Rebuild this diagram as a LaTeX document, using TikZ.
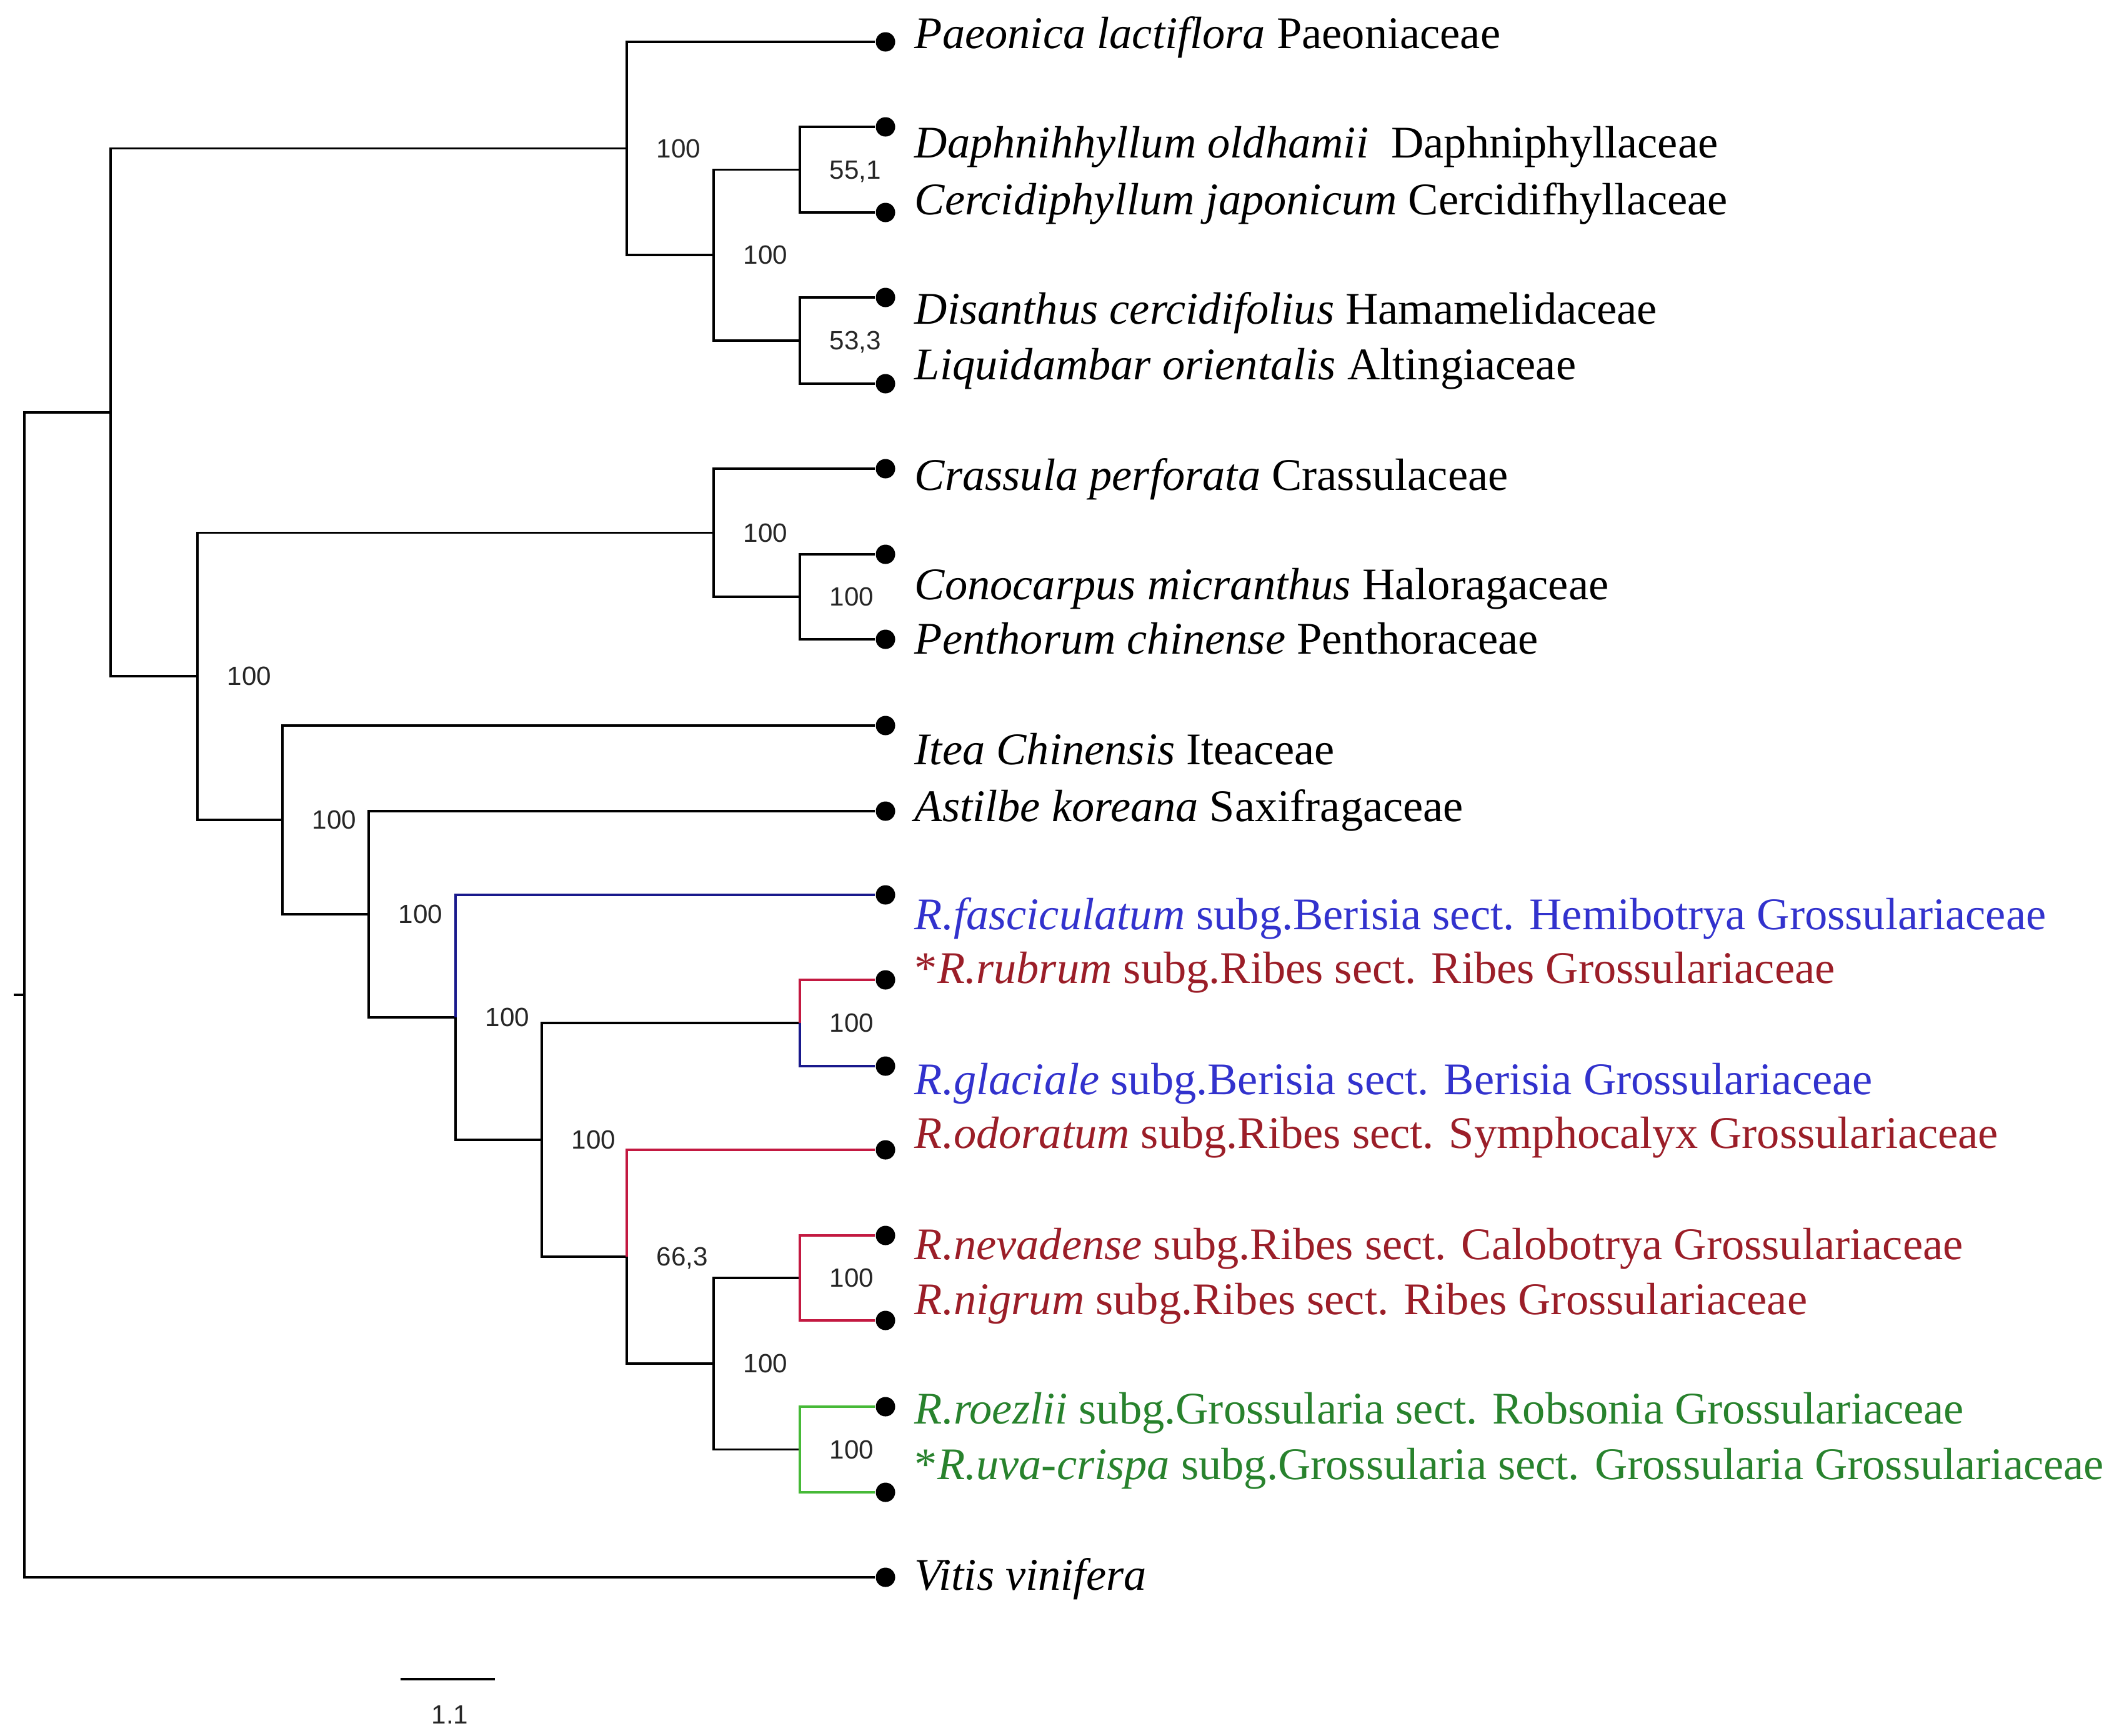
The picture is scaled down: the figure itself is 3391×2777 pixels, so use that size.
\documentclass[tikz,border=0pt]{standalone}
\usepackage{fontspec}
\setmainfont{Liberation Serif}
\newfontfamily\bsfont{Liberation Sans}
\usetikzlibrary{positioning}
\definecolor{berisiaLine}{RGB}{25,25,140}
\definecolor{berisiaText}{RGB}{50,50,205}
\definecolor{ribesLine}{RGB}{195,25,65}
\definecolor{ribesText}{RGB}{155,30,40}
\definecolor{grossLine}{RGB}{70,185,55}
\definecolor{grossText}{RGB}{40,130,45}

\begin{document}
\begin{tikzpicture}[x=0.01cm, y=-0.01cm, line width=1pt,
    tip/.style={circle, fill=black, inner sep=0pt, minimum size=0.31cm},
    taxon/.style={anchor=base west, inner sep=0pt, font=\fontsize{20.6}{24}\selectfont},
    bs/.style={inner sep=0pt, text depth=0pt, font=\bsfont\fontsize{12}{14}\selectfont, text=black!85}]

\useasboundingbox (0,0) rectangle (3391,2777);

% tips
\node[tip] (paeo) at (1417,67) {};
\node[tip] (daph) at (1417,203) {};
\node[tip] (cerc) at (1417,340) {};
\node[tip] (disa) at (1417,476) {};
\node[tip] (liqu) at (1417,614) {};
\node[tip] (cras) at (1417,750) {};
\node[tip] (cono) at (1417,887) {};
\node[tip] (pent) at (1417,1023) {};
\node[tip] (itea) at (1417,1161) {};
\node[tip] (asti) at (1417,1298) {};
\node[tip] (fasc) at (1417,1432) {};
\node[tip] (rubr) at (1417,1568) {};
\node[tip] (glac) at (1417,1706) {};
\node[tip] (odor) at (1417,1840) {};
\node[tip] (neva) at (1417,1977) {};
\node[tip] (nigr) at (1417,2113) {};
\node[tip] (roez) at (1417,2251) {};
\node[tip] (uvac) at (1417,2388) {};
\node[tip] (viti) at (1417,2524) {};

% taxon names
\node[taxon] (paeoName) at (1462,77) {\textit{Paeonica lactiflora} Paeoniaceae};
\node[taxon] (daphName) at (1462,252) {\textit{Daphnihhyllum oldhamii}\ \ Daphniphyllaceae};
\node[taxon] (cercName) at (1462,343) {\textit{Cercidiphyllum japonicum} Cercidifhyllaceae};
\node[taxon] (disaName) at (1462,518) {\textit{Disanthus cercidifolius} Hamamelidaceae};
\node[taxon] (liquName) at (1462,607) {\textit{Liquidambar orientalis} Altingiaceae};
\node[taxon] (crasName) at (1462,784) {\textit{Crassula perforata} Crassulaceae};
\node[taxon] (conoName) at (1462,959) {\textit{Conocarpus micranthus} Haloragaceae};
\node[taxon] (pentName) at (1462,1046) {\textit{Penthorum chinense} Penthoraceae};
\node[taxon] (iteaName) at (1462,1223) {\textit{Itea Chinensis} Iteaceae};
\node[taxon] (astiName) at (1462,1314) {\textit{Astilbe koreana} Saxifragaceae};
\node[taxon, text=berisiaText] (fascName) at (1462,1487) {\textit{R.fasciculatum} subg.Berisia sect. Hemibotrya Grossulariaceae};
\node[taxon, text=ribesText] (rubrName) at (1462,1573) {*\textit{R.rubrum} subg.Ribes sect. Ribes Grossulariaceae};
\node[taxon, text=berisiaText] (glacName) at (1462,1751) {\textit{R.glaciale} subg.Berisia sect. Berisia Grossulariaceae};
\node[taxon, text=ribesText] (odorName) at (1462,1837) {\textit{R.odoratum} subg.Ribes sect. Symphocalyx Grossulariaceae};
\node[taxon, text=ribesText] (nevaName) at (1462,2015) {\textit{R.nevadense} subg.Ribes sect. Calobotrya Grossulariaceae};
\node[taxon, text=ribesText] (nigrName) at (1462,2103) {\textit{R.nigrum} subg.Ribes sect. Ribes Grossulariaceae};
\node[taxon, text=grossText] (roezName) at (1462,2278) {\textit{R.roezlii} subg.Grossularia sect. Robsonia Grossulariaceae};
\node[taxon, text=grossText] (uvacName) at (1462,2367) {*\textit{R.uva-crispa} subg.Grossularia sect. Grossularia Grossulariaceae};
\node[taxon] (vitiName) at (1462,2544) {\textit{Vitis vinifera}};

% internal nodes
\coordinate (rootTick) at (22,1592);
\coordinate (root) at (39,1592);
\coordinate (cA) at (177,660);
\coordinate (cB) at (1003,237.5);
\coordinate (cC) at (1142,408);
\coordinate (cD) at (1280,271.5);
\coordinate (cE) at (1280,545);
\coordinate (cF) at (316,1082);
\coordinate (cG) at (1142,852.5);
\coordinate (cH) at (1280,955);
\coordinate (cI) at (452,1312);
\coordinate (cJ) at (590,1463);
\coordinate (cK) at (729,1628);
\coordinate (cL) at (867,1824);
\coordinate (cM) at (1280,1637);
\coordinate (cN) at (1003,2011);
\coordinate (cO) at (1142,2182);
\coordinate (cP) at (1280,2045);
\coordinate (cQ) at (1280,2319.5);

% branches
\draw (rootTick) -- (root);
\draw (root) |- (cA);
\draw (root) |- (viti);
\draw (cA) |- (cB);
\draw (cA) |- (cF);
\draw (cB) |- (paeo);
\draw (cB) |- (cC);
\draw (cC) |- (cD);
\draw (cC) |- (cE);
\draw (cD) |- (daph);
\draw (cD) |- (cerc);
\draw (cE) |- (disa);
\draw (cE) |- (liqu);
\draw (cF) |- (cG);
\draw (cF) |- (cI);
\draw (cG) |- (cras);
\draw (cG) |- (cH);
\draw (cH) |- (cono);
\draw (cH) |- (pent);
\draw (cI) |- (itea);
\draw (cI) |- (cJ);
\draw (cJ) |- (asti);
\draw (cJ) |- (cK);
\draw (cK) |- (cL);
\draw[berisiaLine] (cK) |- (fasc);
\draw (cL) |- (cM);
\draw (cL) |- (cN);
\draw[ribesLine] (cM) |- (rubr);
\draw[berisiaLine] (cM) |- (glac);
\draw (cN) |- (cO);
\draw[ribesLine] (cN) |- (odor);
\draw (cO) |- (cP);
\draw (cO) |- (cQ);
\draw[ribesLine] (cP) |- (neva);
\draw[ribesLine] (cP) |- (nigr);
\draw[grossLine] (cQ) |- (roez);
\draw[grossLine] (cQ) |- (uvac);

% support values
\node[bs, right=0.46cm of cB] (bsB) {100};
\node[bs, right=0.46cm of cC] (bsC) {100};
\node[bs, right=0.46cm of cD] (bsD) {55,1};
\node[bs, right=0.46cm of cE] (bsE) {53,3};
\node[bs, right=0.46cm of cF] (bsF) {100};
\node[bs, right=0.46cm of cG] (bsG) {100};
\node[bs, right=0.46cm of cH] (bsH) {100};
\node[bs, right=0.46cm of cI] (bsI) {100};
\node[bs, right=0.46cm of cJ] (bsJ) {100};
\node[bs, right=0.46cm of cK] (bsK) {100};
\node[bs, right=0.46cm of cL] (bsL) {100};
\node[bs, right=0.46cm of cM] (bsM) {100};
\node[bs, right=0.46cm of cN] (bsN) {66,3};
\node[bs, right=0.46cm of cO] (bsO) {100};
\node[bs, right=0.46cm of cP] (bsP) {100};
\node[bs, right=0.46cm of cQ] (bsQ) {100};

% scale bar
\coordinate (barL) at (641,2687);
\coordinate (barR) at (792,2687);
\draw (barL) -- (barR);
\node[bs, below=0.41cm of barL, xshift=0.79cm] (barText) {1.1};
\end{tikzpicture}
\end{document}
